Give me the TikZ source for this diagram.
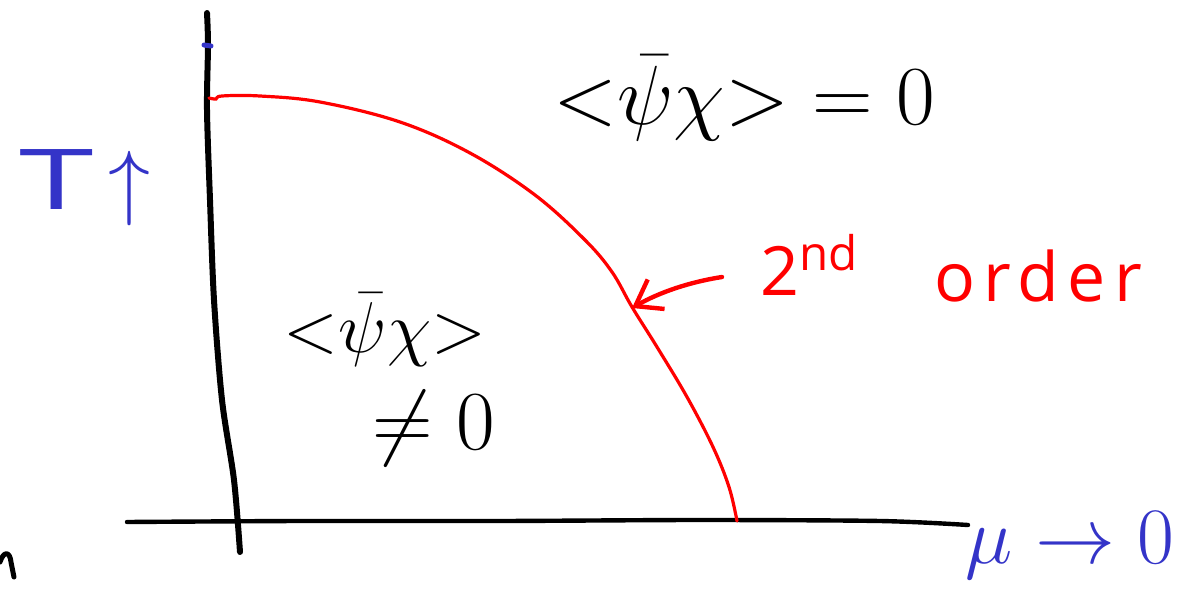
\RequirePackage{fix-cm}
\documentclass[tikz,border=0pt]{standalone}
\usepackage{fontspec}
\usepackage{graphicx}
\setmainfont{Open Sans}
\usetikzlibrary{arrows.meta}
\definecolor{penblue}{RGB}{52,52,200}
\definecolor{penred}{RGB}{255,0,0}
\tikzset{
  axisline/.style={line width=3pt,line cap=round,line join=round,black},
  phaseline/.style={line width=1.6pt,line cap=round,penred},
  lbl/.style={inner sep=0pt,outer sep=0pt},
}
\begin{document}
\begin{tikzpicture}[x=0.5pt,y=-0.5pt]
\useasboundingbox (0,0) rectangle (1189,599);
% axes
\draw[axisline] plot[smooth] coordinates {(207,13) (208,45) (207,110) (210,200) (214,300) (222,400) (234,480) (240,552)};
\draw[axisline,line width=2.2pt] plot[smooth] coordinates {(127,522) (300,521) (500,521) (700,520) (880,521) (968,525)};
% blue tick on T axis
\draw[penblue,line width=2.5pt,line cap=round] (204,45) -- (211,46);
% red phase boundary
\draw[phaseline] plot[smooth,tension=0.6] coordinates {(209,98) (216,99) (222,96) (260,96) (320,102) (400,122) (470,153) (535,195) (585,240) (612,272) (632,307) (657,347) (687,397) (713,447) (729,487) (737,521)};
\coordinate (tip) at (632,308);
\coordinate (tail) at (722,277);
\draw[phaseline,line width=2.2pt,-{Straight Barb[length=12pt,width=17pt,line width=2.2pt]}] (tail) .. controls (690,282) and (660,292) .. (tip);
% stray mark bottom-left
\draw[axisline,line width=2.5pt] (0,562) .. controls (4,550) and (10,552) .. (11,562) -- (14,577);
% labels
\node[lbl] (top) at (744,98) {\fontsize{42}{48}\selectfont $\mathord{<}\bar\psi\chi\mathord{>}=0$};
\node[lbl] (low1) at (385,330) {\fontsize{36}{40}\selectfont $\mathord{<}\bar\psi\chi\mathord{>}$};
\node[lbl] (low2) at (434,428) {\fontsize{42}{46}\selectfont $\neq0$};
\node[lbl,penblue] (T) at (85,188) {\fontsize{42}{46}\selectfont\scalebox{1.6}[1]{T}\,$\uparrow$};
\node[lbl,penblue] (mu) at (1070,545) {\fontsize{40}{44}\selectfont $\mu\to0$};
\node[lbl,penred] (second) at (810,265) {\fontsize{34}{38}\selectfont 2\textsuperscript{nd}};
\node[lbl,penred] (order) at (1038,276) {\fontsize{34}{38}\selectfont\addfontfeatures{LetterSpace=12}order};
\end{tikzpicture}
\end{document}
